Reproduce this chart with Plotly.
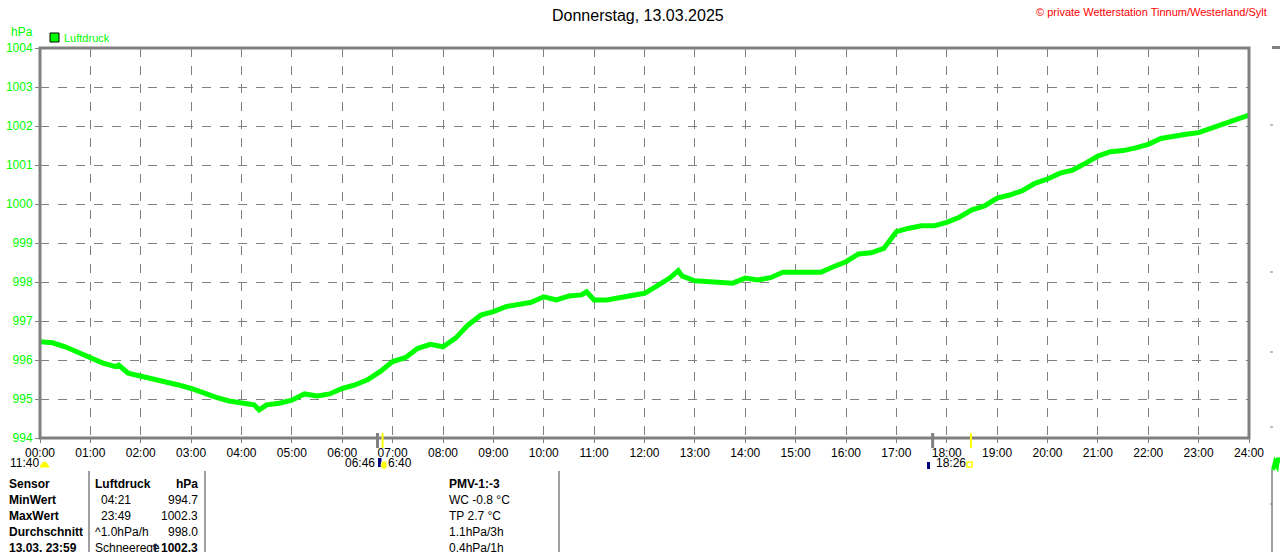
import plotly.graph_objects as go

# ---- data ----
hours = [0.00, 0.25, 0.50, 0.75, 1.00, 1.25, 1.50, 1.56, 1.75, 2.00, 2.25, 2.50, 2.75,
         3.00, 3.25, 3.50, 3.75, 4.00, 4.25, 4.35, 4.50, 4.75, 5.00, 5.25, 5.50, 5.75,
         6.00, 6.25, 6.50, 6.75, 7.00, 7.25, 7.50, 7.75, 8.00, 8.25, 8.50, 8.75,
         9.00, 9.25, 9.50, 9.75, 10.00, 10.25, 10.50, 10.75, 10.85, 11.00, 11.25, 11.50,
         11.75, 12.00, 12.25, 12.50, 12.67, 12.75, 13.00, 13.25, 13.50, 13.75, 14.00,
         14.25, 14.50, 14.75, 15.00, 15.25, 15.50, 15.75, 16.00, 16.25, 16.50, 16.75,
         17.00, 17.25, 17.50, 17.75, 18.00, 18.25, 18.50, 18.75, 19.00, 19.25, 19.50,
         19.75, 20.00, 20.25, 20.50, 20.75, 21.00, 21.25, 21.50, 21.75, 22.00, 22.25,
         22.50, 22.75, 23.00, 23.25, 23.50, 23.75, 24.00]
luftdruck = [996.47, 996.44, 996.34, 996.20, 996.05, 995.92, 995.83, 995.87, 995.66, 995.59,
             995.50, 995.44, 995.36, 995.27, 995.15, 995.04, 994.95, 994.89, 994.85, 994.72,
             994.85, 994.89, 994.97, 995.13, 995.08, 995.13, 995.27, 995.36, 995.49, 995.70,
             995.96, 996.06, 996.30, 996.40, 996.34, 996.56, 996.90, 997.15, 997.24, 997.37,
             997.44, 997.48, 997.62, 997.54, 997.64, 997.67, 997.75, 997.54, 997.54, 997.60,
             997.64, 997.71, 997.90, 998.10, 998.29, 998.15, 998.03, 998.01, 997.97, 997.97,
             998.10, 998.05, 998.11, 998.25, 998.25, 998.25, 998.25, 998.39, 998.52, 998.72,
             998.75, 998.86, 999.29, 999.38, 999.44, 999.44, 999.53, 999.66, 999.85, 999.95,
             1000.15, 1000.23, 1000.34, 1000.53, 1000.64, 1000.79, 1000.87, 1001.04, 1001.23,
             1001.34, 1001.37, 1001.44, 1001.53, 1001.68, 1001.75, 1001.79, 1001.83, 1001.94,
             1002.05, 1002.17, 1002.28]
x_tickvals = list(range(0, 25))
x_ticktext = ["%02d:00" % h for h in x_tickvals]
y_tickvals = list(range(994, 1005))
title_text = "Donnerstag, 13.03.2025"
copyright_text = "© private Wetterstation Tinnum/Westerland/Sylt"
series_name = "Luftdruck"
unit = "hPa"
sun_gray_marks = [6.70, 17.72]
sun_yellow_marks = [6.80, 18.48]
table_col1 = ["Sensor", "MinWert", "MaxWert", "Durchschnitt", "13.03. 23:59"]
table_col2 = ["Luftdruck", "04:21", "23:49", "^1.0hPa/h", "Schneerege"]
table_col3 = ["hPa", "994.7", "1002.3", "998.0", "1002.3"]
table_col4 = ["PMV-1:-3", "WC -0.8 °C", "TP 2.7 °C", "1.1hPa/3h", "0.4hPa/1h"]

W, H = 1280, 552
L, R, T, B = 40, 1249, 48, 438
GRAY = "#808080"
GREEN = "#00FF00"
FONT = "Liberation Sans"


def px(x):
    return (x - L) / (R - L)


def py(y):
    return (B - y) / (B - T)


fig = go.Figure()
fig.add_trace(go.Scatter(x=hours, y=luftdruck, mode="lines", name=series_name,
                         line=dict(color=GREEN, width=5), showlegend=False))

fig.update_layout(
    width=W, height=H,
    margin=dict(l=L, r=W - R, t=T, b=H - B, pad=0),
    paper_bgcolor="white", plot_bgcolor="white",
    font=dict(family=FONT, size=12, color="black"),
    xaxis=dict(range=[0, 24], tickvals=x_tickvals, ticktext=x_ticktext,
               showgrid=True, gridcolor=GRAY, griddash="dash", gridwidth=1,
               ticks="outside", ticklen=4, tickcolor=GRAY, zeroline=False,
               showline=False, automargin=False,
               tickfont=dict(family=FONT, size=12, color="black")),
    yaxis=dict(range=[994, 1004], tickvals=y_tickvals,
               showgrid=True, gridcolor=GRAY, griddash="dash", gridwidth=1,
               ticks="outside", ticklen=4, tickcolor=GRAY, zeroline=False,
               showline=False, automargin=False,
               tickfont=dict(family=FONT, size=12, color=GREEN)),
)

shapes = []
# frame
shapes.append(dict(type="rect", xref="paper", yref="paper", x0=0, x1=1, y0=0, y1=1,
                   line=dict(color=GRAY, width=3), layer="above"))
# sunrise / sunset marks
for xv in sun_gray_marks:
    shapes.append(dict(type="line", xref="x", yref="paper", x0=xv, x1=xv,
                       y0=py(448), y1=py(433), line=dict(color=GRAY, width=3)))
for xv in sun_yellow_marks:
    shapes.append(dict(type="line", xref="x", yref="paper", x0=xv, x1=xv,
                       y0=py(448), y1=py(433), line=dict(color="#FFFF00", width=2)))
# legend square
shapes.append(dict(type="rect", xref="paper", yref="paper", x0=px(50), x1=px(59),
                   y0=py(42), y1=py(33), fillcolor=GREEN, line=dict(color="black", width=1)))
# table separators
for xv in [89, 205, 559]:
    shapes.append(dict(type="line", xref="paper", yref="paper", x0=px(xv), x1=px(xv),
                       y0=py(553), y1=py(471), line=dict(color=GRAY, width=1.5)))
# icons
shapes.append(dict(type="path", xref="paper", yref="paper",
                   path="M %f %f Q %f %f %f %f Z" % (px(40), py(467), px(44.5), py(457), px(49), py(467)),
                   fillcolor="#FFFF00", line=dict(color="#FFFF00", width=1)))
shapes.append(dict(type="rect", xref="paper", yref="paper", x0=px(378), x1=px(381.5),
                   y0=py(467), y1=py(458), fillcolor="#000080", line=dict(width=0)))
shapes.append(dict(type="circle", xref="paper", yref="paper", x0=px(381), x1=px(387),
                   y0=py(469), y1=py(461), fillcolor="#FFFF00", line=dict(color="#FFFF99", width=1)))
shapes.append(dict(type="rect", xref="paper", yref="paper", x0=px(927), x1=px(930),
                   y0=py(469), y1=py(462), fillcolor="#000080", line=dict(width=0)))
shapes.append(dict(type="rect", xref="paper", yref="paper", x0=px(967), x1=px(972),
                   y0=py(467), y1=py(462), fillcolor="white", line=dict(color="#FFFF00", width=1.5)))
# right edge fragments
shapes.append(dict(type="line", xref="paper", yref="paper", x0=px(1272), x1=px(1281),
                   y0=py(47.5), y1=py(47.5), line=dict(color=GRAY, width=3)))
for yv in [125, 272, 352, 427, 504]:
    shapes.append(dict(type="line", xref="paper", yref="paper", x0=px(1270), x1=px(1275),
                       y0=py(yv), y1=py(yv), line=dict(color=GRAY, width=1, dash="dot")))
shapes.append(dict(type="line", xref="paper", yref="paper", x0=px(1272), x1=px(1272),
                   y0=py(553), y1=py(470), line=dict(color=GRAY, width=1.5)))
shapes.append(dict(type="path", xref="paper", yref="paper",
                   path="M %f %f L %f %f L %f %f L %f %f L %f %f" % (
                       px(1273), py(470), px(1275), py(462), px(1277), py(466),
                       px(1278), py(458), px(1280), py(463)),
                   line=dict(color=GREEN, width=4)))
fig.update_layout(shapes=shapes)

ann = []


def text(x, y, s, anchor="left", size=12, color="black", bold=False):
    if bold:
        s = "<b>%s</b>" % s
    ann.append(dict(xref="paper", yref="paper", x=px(x), y=py(y), text=s, showarrow=False,
                    xanchor=anchor, yanchor="middle", borderpad=0,
                    font=dict(family=FONT, size=size, color=color)))


text(638, 15, title_text, anchor="center", size=16)
text(1268, 12, copyright_text, anchor="right", size=11, color="#FF0000")
text(10, 32, unit, size=12, color=GREEN)
text(63, 38, series_name, size=11, color=GREEN)
text(9, 463, "11:40", size=12)
text(376, 463, "06:46", anchor="right", size=12)
text(387, 463, "6:40", size=12)
text(935, 463, "18:26", size=12)

rows = [484, 500, 516, 532, 548]
for i, y in enumerate(rows):
    text(8, y, table_col1[i], bold=True)
    if i in (1, 2):
        text(100, y, table_col2[i])
    else:
        text(94, y, table_col2[i], bold=(i == 0))
    text(199, y, table_col3[i], anchor="right", bold=(i in (0, 4)))
    text(448, y, table_col4[i], bold=(i == 0))
ann.append(dict(xref="paper", yref="paper", x=px(155), y=py(548), text="<b>↑</b>",
                showarrow=False, xanchor="center", yanchor="middle",
                font=dict(family="DejaVu Sans", size=13, color="#102040")))
fig.update_layout(annotations=ann)

fig.write_html("out.html", config={"displayModeBar": False},
               post_script="document.body.style.margin='0';document.body.style.overflow='hidden';")
